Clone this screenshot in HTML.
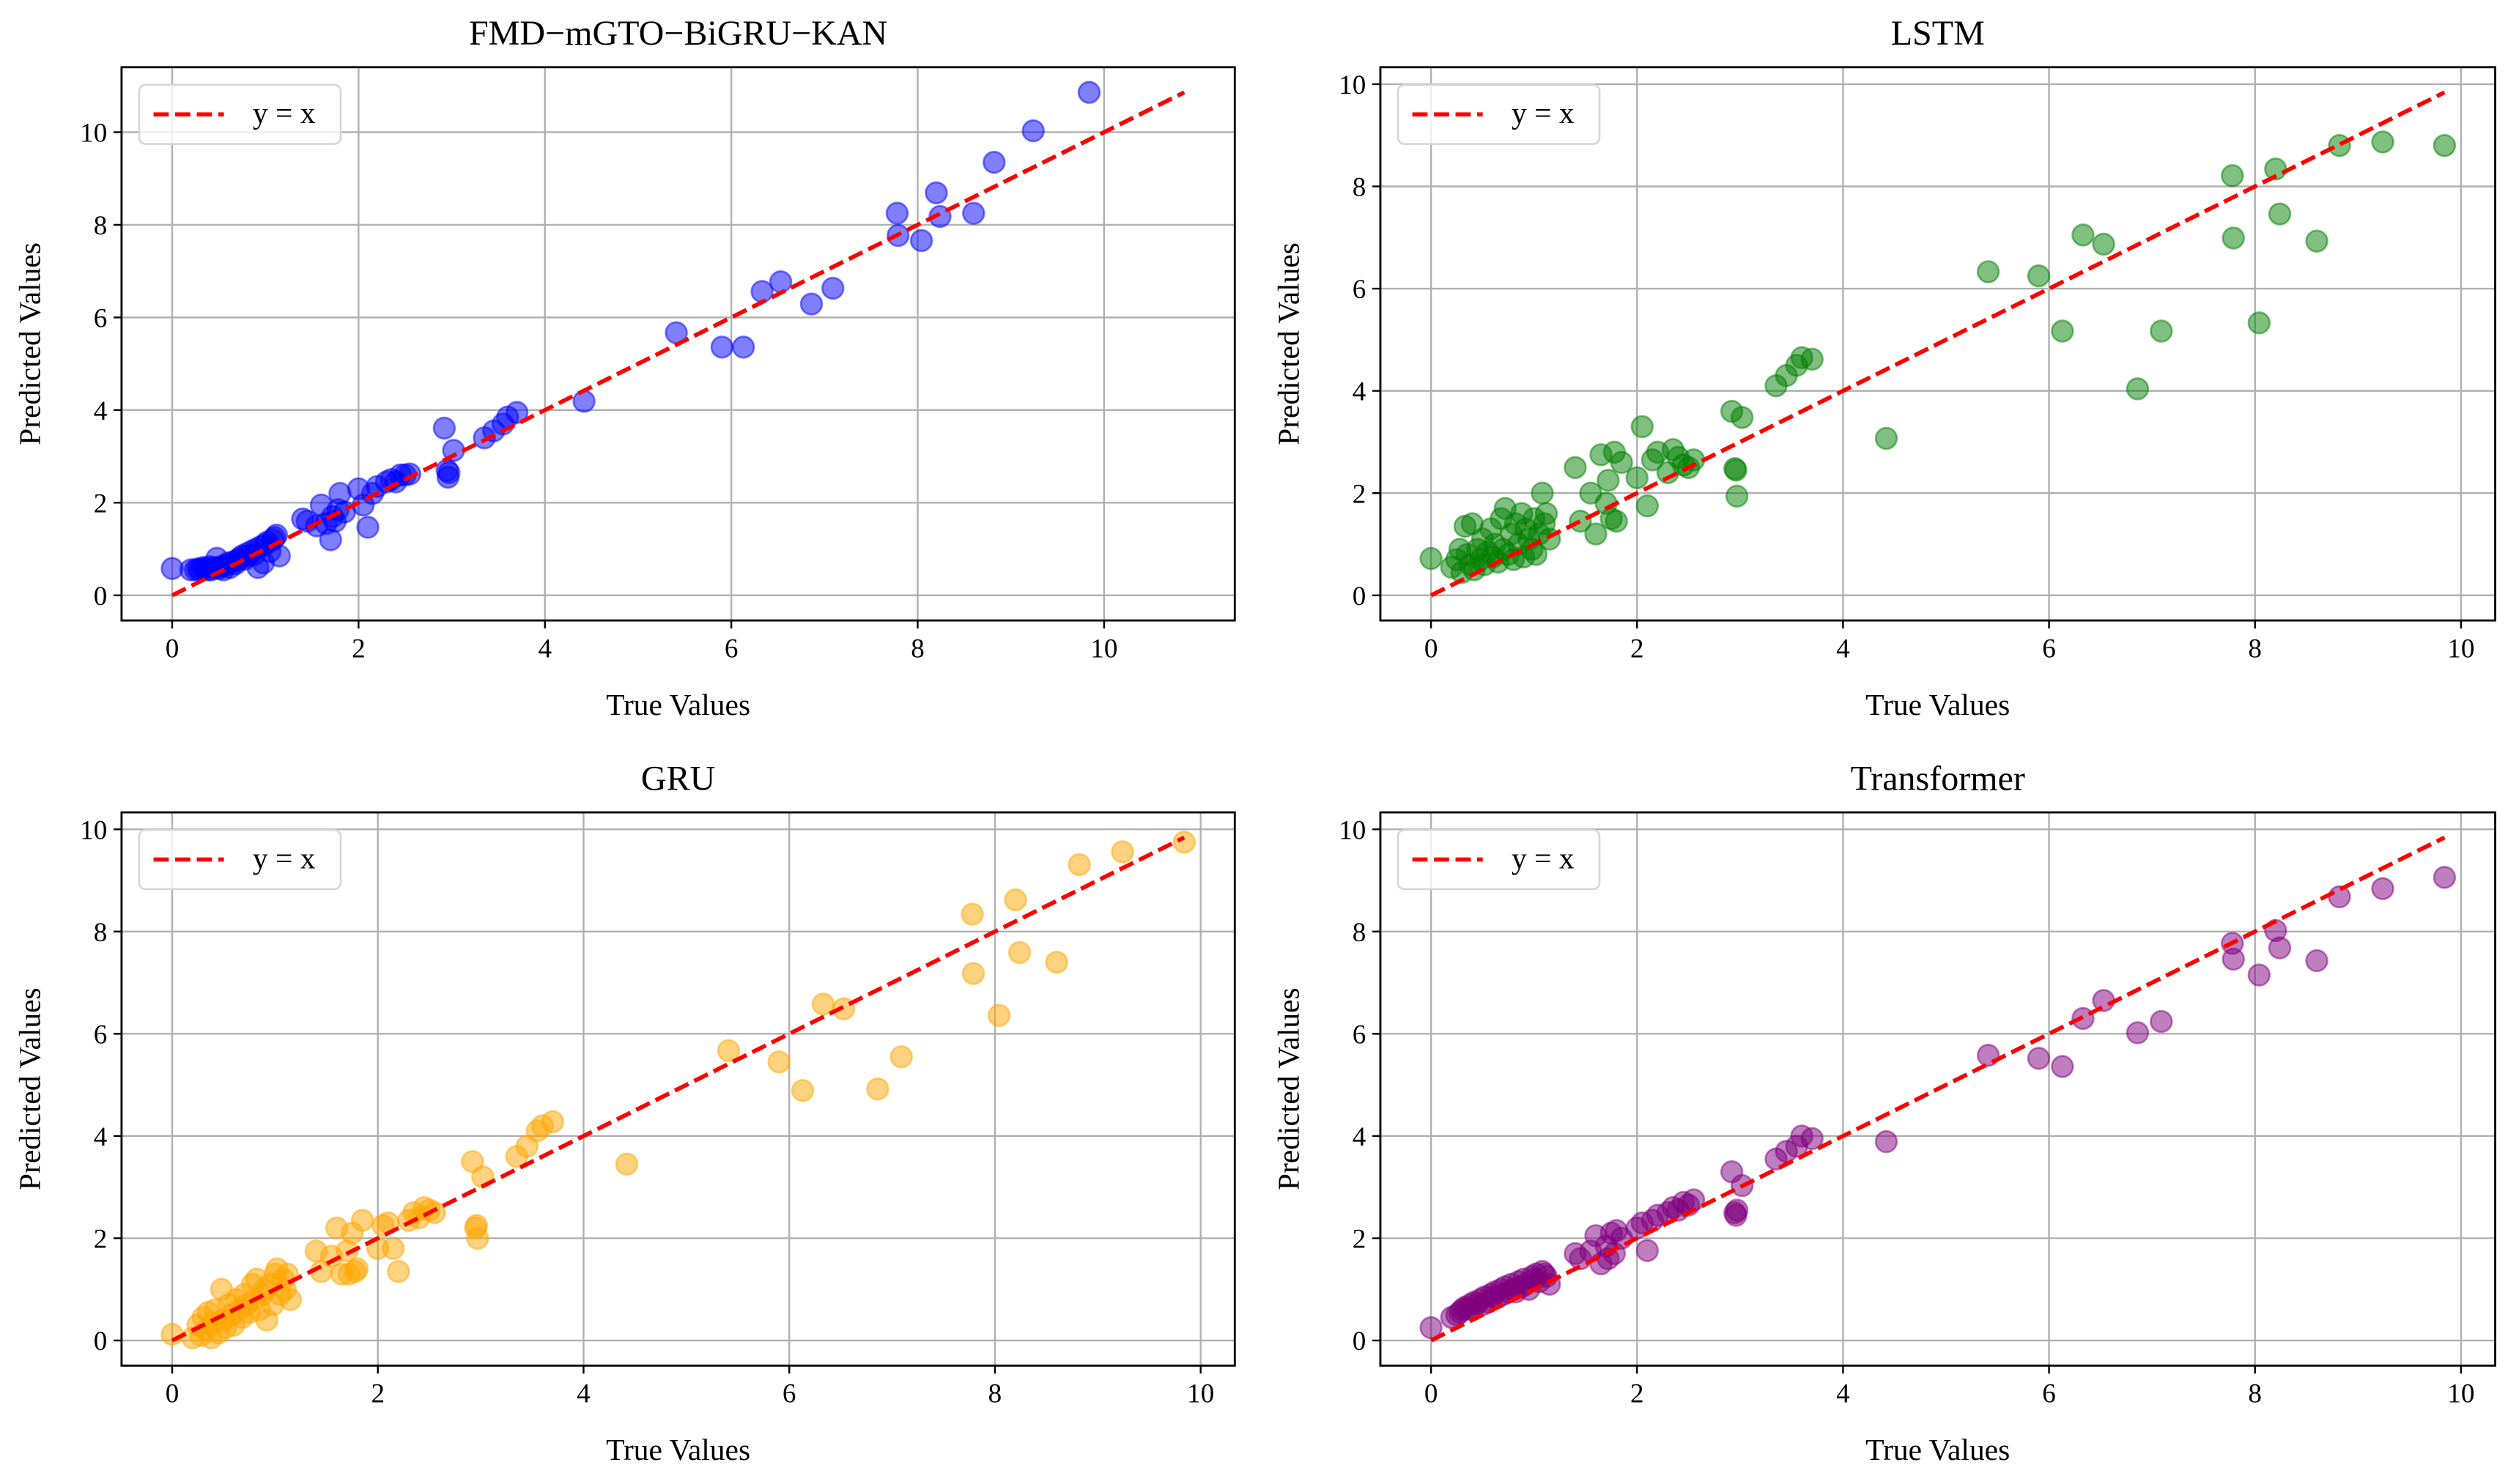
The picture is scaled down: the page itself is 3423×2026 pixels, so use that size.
<!DOCTYPE html>
<html><head><meta charset="utf-8"><style>
html,body{margin:0;padding:0;background:#fff}
svg{display:block;font-family:"Liberation Serif","DejaVu Serif",serif}
</style></head><body>
<svg id="fig" xmlns="http://www.w3.org/2000/svg" width="3423" height="2026" viewBox="0 0 1568 928"></svg>
<script>
const trueVals=[0.0,0.2,0.25,0.28,0.3,0.33,0.35,0.38,0.4,0.42,0.45,0.48,0.5,0.52,0.55,0.58,0.6,0.62,0.65,0.68,0.7,0.72,0.75,0.78,0.8,0.82,0.85,0.88,0.9,0.92,0.95,0.98,1.0,1.02,1.05,1.08,1.1,1.12,1.15,
1.4,1.45,1.55,1.6,1.65,1.7,1.72,1.75,1.78,1.8,1.85,2.0,2.05,2.1,2.15,2.2,2.3,2.35,2.4,2.45,2.5,2.55,
2.92,2.95,2.96,2.97,3.02,3.35,3.45,3.55,3.6,3.7,4.42,
5.41,5.9,6.13,6.33,6.53,6.86,7.09,7.78,7.79,8.04,8.2,8.24,8.6,8.82,9.24,9.84];
const predFMD=[0.58,0.55,0.55,0.57,0.55,0.6,0.58,0.55,0.62,0.55,0.6,0.8,0.58,0.62,0.55,0.65,0.7,0.6,0.72,0.68,0.75,0.8,0.85,0.78,0.9,0.85,0.95,0.88,1.0,0.6,1.05,0.7,1.1,1.15,0.95,1.2,1.25,1.3,0.85,
1.65,1.6,1.5,1.95,1.55,1.2,1.7,1.6,1.85,2.2,1.8,2.3,1.95,1.47,2.2,2.35,2.45,2.5,2.45,2.6,2.6,2.62,
3.61,2.7,2.55,2.65,3.13,3.4,3.55,3.7,3.85,3.95,4.19,
5.67,5.36,5.36,6.56,6.77,6.29,6.63,8.25,7.77,7.66,8.69,8.18,8.25,9.35,10.03,10.86];
const predLSTM=[0.72,0.55,0.7,0.9,0.45,1.35,0.8,0.6,1.4,0.5,0.9,0.7,1.1,0.6,0.85,1.3,0.75,1.0,0.65,1.5,0.9,1.7,0.8,1.2,0.7,1.4,1.0,1.6,0.75,1.3,1.1,0.9,1.5,0.8,1.2,2.0,1.4,1.6,1.1,
2.5,1.45,2.0,1.2,2.75,1.8,2.25,1.5,2.8,1.45,2.6,2.3,3.3,1.75,2.65,2.8,2.4,2.85,2.7,2.55,2.5,2.65,
3.6,2.48,2.45,1.94,3.48,4.1,4.3,4.5,4.65,4.62,3.07,
6.33,6.25,5.17,7.05,6.87,4.04,5.17,8.21,6.99,5.33,8.34,7.46,6.93,8.8,8.87,8.8];
const predGRU=[0.12,0.05,0.3,0.1,0.45,0.2,0.55,0.05,0.35,0.6,0.15,1.0,0.4,0.25,0.7,0.5,0.3,0.8,0.6,0.45,0.9,0.7,0.55,1.1,0.8,1.2,0.6,0.9,1.0,0.4,1.1,0.7,1.3,1.4,0.9,1.2,1.0,1.3,0.8,
1.75,1.35,1.65,2.2,1.3,1.75,1.3,2.1,1.35,1.4,2.35,1.8,2.25,2.3,1.8,1.35,2.35,2.5,2.4,2.6,2.55,2.5,
3.5,2.2,2.25,2.0,3.2,3.6,3.8,4.1,4.2,4.28,3.45,
5.67,5.45,4.89,6.58,6.49,4.92,5.55,8.34,7.18,6.36,8.62,7.59,7.4,9.31,9.56,9.75];
const predTrans=[0.25,0.45,0.5,0.55,0.6,0.65,0.62,0.7,0.6,0.75,0.72,0.8,0.7,0.85,0.75,0.9,0.85,0.95,0.85,1.0,0.9,1.05,0.95,1.1,1.0,0.95,1.15,1.05,1.2,1.1,1.0,1.25,1.2,1.3,1.15,1.35,1.3,1.25,1.1,
1.7,1.6,1.75,2.05,1.5,1.85,1.6,2.1,1.7,2.15,2.0,2.2,2.3,1.76,2.35,2.45,2.5,2.6,2.55,2.7,2.65,2.75,
3.3,2.5,2.45,2.55,3.03,3.55,3.7,3.8,4.0,3.95,3.89,
5.58,5.52,5.36,6.3,6.65,6.02,6.24,7.77,7.46,7.15,8.02,7.68,7.43,8.68,8.84,9.06];
const panelTitles=["FMD\u2212mGTO\u2212BiGRU\u2212KAN","LSTM","GRU","Transformer"];
const tickVals=[0,2,4,6,8,10];

const NS="http://www.w3.org/2000/svg";
const svg=document.getElementById('fig');
function mk(tag,attrs,parent){const e=document.createElementNS(NS,tag);for(const k in attrs)e.setAttribute(k,attrs[k]);(parent||svg).appendChild(e);return e;}

const panels=[
 {name:'fmd',preds:predFMD,color:'#0000ff',box:[76,42,772,388]},
 {name:'lstm',preds:predLSTM,color:'#008000',box:[863,42,1560,388]},
 {name:'gru',preds:predGRU,color:'#ffa500',box:[76,508,772,854]},
 {name:'transformer',preds:predTrans,color:'#800080',box:[863,508,1560,854]}
];

panels.forEach((p,pi)=>{
  const g=mk('g',{});
  
  
  const [x0,y0,x1,y1]=p.box;
  const lo=Math.min(0,...trueVals,...p.preds);
  const hi=Math.max(...trueVals,...p.preds);
  const lineMax=Math.max(...trueVals,...p.preds);
  const pad=(hi-lo)*0.05;
  const mn=lo-pad,mx=hi+pad;
  const sx=v=>x0+(v-mn)/(mx-mn)*(x1-x0);
  const sy=v=>y1-(v-mn)/(mx-mn)*(y1-y0);
  // grid
  tickVals.forEach(t=>{
    if(t<=mx){
      const gx=mk('line',{x1:sx(t),x2:sx(t),y1:y0,y2:y1,stroke:'#b0b0b0','stroke-width':1.1},g);
      
      
      const gy=mk('line',{x1:x0,x2:x1,y1:sy(t),y2:sy(t),stroke:'#b0b0b0','stroke-width':1.1},g);
      
      
      const tx=mk('line',{x1:sx(t),x2:sx(t),y1:y1,y2:y1+5,stroke:'#000','stroke-width':1.1},g);
      
      
      const ty=mk('line',{x1:x0-5,x2:x0,y1:sy(t),y2:sy(t),stroke:'#000','stroke-width':1.1},g);
      
      
      const lx=mk('text',{x:sx(t),y:y1+23,'font-size':17,'text-anchor':'middle',fill:'#000'},g);
      lx.textContent=t;
      
      
      const ly=mk('text',{x:x0-9,y:sy(t)+6,'font-size':17,'text-anchor':'end',fill:'#000'},g);
      ly.textContent=t;
      
      
    }
  });
  // points
  trueVals.forEach((tv,i)=>{
    const c=mk('circle',{cx:sx(tv),cy:sy(p.preds[i]),r:6.6,fill:p.color,'fill-opacity':0.5,stroke:p.color,'stroke-opacity':0.5,'stroke-width':1.2},g);
    
    
  });
  // y=x line
  const lmax=Math.max(...trueVals.map((v,i)=>Math.max(v,pi===0?p.preds[i]:v)));
  const rl=mk('line',{x1:sx(0),y1:sy(0),x2:sx(lmax),y2:sy(lmax),stroke:'#ff0000','stroke-width':2.6,'stroke-dasharray':'9.5,4'},g);
  
  
  // frame
  const fr=mk('rect',{x:x0,y:y0,width:x1-x0,height:y1-y0,fill:'none',stroke:'#000','stroke-width':1.3},g);
  
  
  // legend
  const lg=mk('g',{},g);
  
  
  mk('rect',{x:x0+11,y:y0+11,width:126,height:37,rx:4,fill:'#fff','fill-opacity':0.8,stroke:'#d6d6d6','stroke-width':1.2},lg);
  const ll=mk('line',{x1:x0+20,x2:x0+64,y1:y0+29.5,y2:y0+29.5,stroke:'#ff0000','stroke-width':2.6,'stroke-dasharray':'9.5,4'},lg);
  
  
  const lt=mk('text',{x:x0+82,y:y0+35,'font-size':19,fill:'#000'},lg);
  lt.textContent='y = x';
  
  
  // title & labels
  const ti=mk('text',{x:(x0+x1)/2,y:y0-14,'font-size':22,'text-anchor':'middle',fill:'#000'},g);
  ti.textContent=panelTitles[pi];
  
  
  const xl=mk('text',{x:(x0+x1)/2,y:y1+59,'font-size':19,'text-anchor':'middle',fill:'#000'},g);
  xl.textContent='True Values';
  
  
  const yx=x0-51,yy=(y0+y1)/2;
  const yl=mk('text',{x:yx,y:yy,'font-size':19,'text-anchor':'middle',fill:'#000',transform:`rotate(-90 ${yx} ${yy})`},g);
  yl.textContent='Predicted Values';
  
  
});
</script>
</body></html>
